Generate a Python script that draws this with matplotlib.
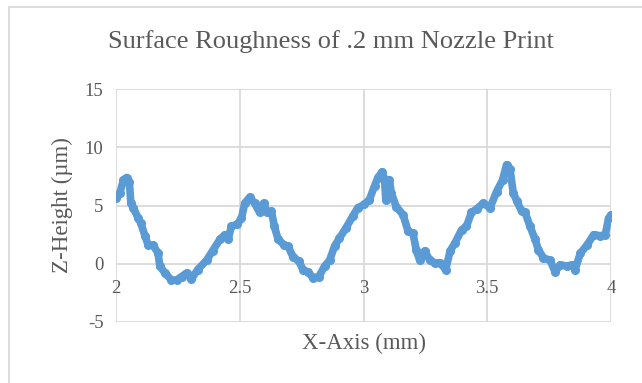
import matplotlib
matplotlib.use("Agg")
import matplotlib.pyplot as plt
from matplotlib.patches import Rectangle

x_mm = [2.0, 2.016, 2.03, 2.043, 2.054, 2.06, 2.07, 2.09, 2.10, 2.117, 2.13, 2.15, 2.17, 2.177,
        2.198, 2.224, 2.245, 2.265, 2.285, 2.305, 2.33, 2.366, 2.39, 2.42, 2.44, 2.453, 2.466,
        2.49, 2.507, 2.52, 2.54, 2.56, 2.58, 2.597, 2.61, 2.628, 2.64, 2.655, 2.68, 2.695, 2.715,
        2.74, 2.755, 2.775, 2.796, 2.82, 2.843, 2.863, 2.883, 2.903, 2.93, 2.957, 2.977, 3.004,
        3.024, 3.045, 3.058, 3.076, 3.085, 3.09, 3.105, 3.112, 3.132, 3.16, 3.18, 3.2, 3.213,
        3.227, 3.247, 3.268, 3.288, 3.308, 3.332, 3.35, 3.37, 3.396, 3.416, 3.436, 3.457, 3.484,
        3.511, 3.538, 3.562, 3.578, 3.592, 3.605, 3.619, 3.639, 3.653, 3.673, 3.693, 3.707,
        3.727, 3.754, 3.774, 3.795, 3.822, 3.842, 3.855, 3.876, 3.903, 3.93, 3.957, 3.977,
        3.99, 4.0]
z_um = [5.66, 6.1, 7.2, 7.4, 7.0, 5.2, 4.8, 3.9, 3.5, 2.4, 1.6, 1.6, 0.9, -0.2,
        -0.8, -1.4, -1.4, -1.1, -0.8, -1.3, -0.5, 0.3, 1.1, 2.1, 2.5, 2.1, 3.2,
        3.4, 3.9, 5.2, 5.7, 5.2, 4.4, 5.2, 4.4, 4.5, 3.2, 2.1, 1.6, 1.5, 0.6,
        0.2, -0.5, -0.7, -1.2, -1.1, -0.2, 0.3, 1.5, 2.2, 3.1, 4.1, 4.8, 5.1,
        5.5, 6.7, 7.4, 7.9, 7.2, 5.5, 7.2, 6.1, 4.9, 4.2, 2.8, 2.6, 1.2,
        0.3, 1.1, 0.3, 0.05, 0.1, -0.5, 1.1, 1.8, 2.9, 3.2, 4.4, 4.7, 5.2,
        4.8, 6.2, 7.2, 8.5, 8.1, 6.1, 5.4, 4.5, 4.4, 3.2, 2.1, 1.2,
        0.5, 0.3, -0.7, -0.1, -0.2, -0.1, -0.5, 0.9, 1.6, 2.5, 2.4, 2.5,
        3.9, 4.2]

x_ticks = [2, 2.5, 3, 3.5, 4]
x_tick_labels = ["2", "2.5", "3", "3.5", "4"]
y_ticks = [-5, 0, 5, 10, 15]
y_tick_labels = ["-5", "0", "5", "10", "15"]

plt.rcParams['font.family'] = ['Liberation Serif', 'DejaVu Serif']
txt = '#595959'
grid = '#D9D9D9'
blue = '#5B9BD5'

W, H = 642, 383
fig = plt.figure(figsize=(W / 100, H / 100), dpi=100)
ax = fig.add_axes([116 / W, 1 - 322 / H, (611 - 116) / W, (322 - 89) / H])

ax.plot(x_mm, z_um, color=blue, linewidth=5.5, solid_capstyle='round', solid_joinstyle='round',
        marker='o', markersize=5.5, zorder=3)

ax.set_xlim(2, 4)
ax.set_ylim(-5, 15)
ax.set_xticks(x_ticks)
ax.set_xticklabels(x_tick_labels)
ax.set_yticks(y_ticks)
ax.set_yticklabels(y_tick_labels)
ax.grid(True, color=grid, linewidth=1.3)
ax.set_axisbelow(True)
for s in ['top', 'right', 'left']:
    ax.spines[s].set_visible(False)
ax.spines['bottom'].set_position(('data', 0))
ax.spines['bottom'].set_visible(False)
ax.tick_params(axis='both', length=0, labelsize=13.5, labelcolor=txt)
ax.tick_params(axis='x', pad=12)
ax.tick_params(axis='y', pad=9)

fig.text(62 / W, 1 - 205 / H, 'Z-Height (µm)', rotation=90, ha='center', va='center',
         fontsize=16.5, color=txt)
fig.text(364 / W, 1 - 343 / H, 'X-Axis (mm)', ha='center', va='center', fontsize=16.5, color=txt)
fig.text(331 / W, 1 - 42 / H, 'Surface Roughness of .2 mm Nozzle Print', ha='center', va='center',
         fontsize=19, color=txt)

fig.patches.append(Rectangle((9 / W, -0.1), 1.2, 1.1 - 7 / H, transform=fig.transFigure,
                             fill=False, edgecolor=grid, linewidth=1.3))

fig.savefig('out.png', dpi=100)
